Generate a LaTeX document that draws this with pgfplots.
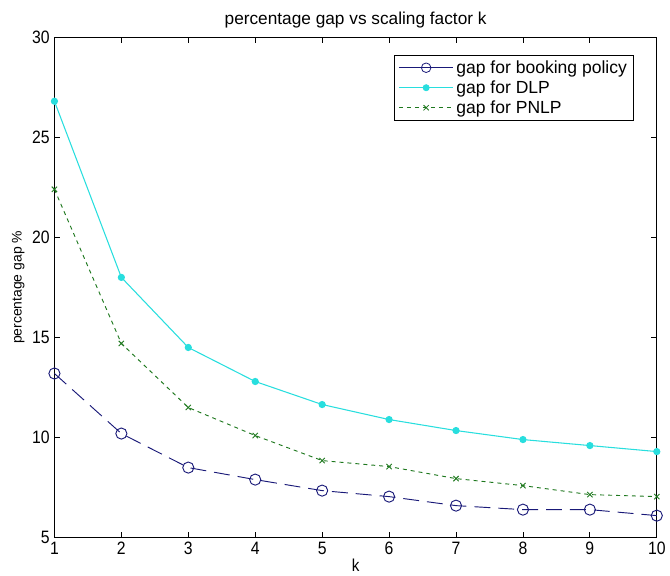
\documentclass[border=0pt]{standalone}
\usepackage{pgfplots}
\pgfplotsset{compat=1.18}
\usepackage{fontspec}
\setmainfont{Liberation Sans}
\setsansfont{Liberation Sans}
\newfontfamily\tallfont[FakeStretch=0.88]{Liberation Sans}

\definecolor{bookBlue}{RGB}{25,25,120}
\definecolor{dlpCyan}{RGB}{40,222,222}
\definecolor{pnlpGreen}{RGB}{30,120,30}

\begin{document}
\begin{tikzpicture}
\begin{axis}[
    scale only axis,
    width=453.75pt, height=377pt,
    xmin=1, xmax=10, ymin=5, ymax=30,
    xtick={1,...,10}, ytick={5,10,...,30},
    tick align=inside,
    major tick length=4.5pt,
    axis line style={black, line width=0.6pt},
    every tick/.style={black, line width=0.6pt},
    tick label style={font=\tallfont\fontsize{13.5}{14}\selectfont},
    /pgf/number format/assume math mode=true,
    xlabel={k}, ylabel={percentage gap \%},
    xlabel style={font=\tallfont\fontsize{13}{14}\selectfont, yshift=4pt},
    ylabel style={font=\fontsize{10.5}{12}\selectfont, yshift=-1pt},
    title={percentage gap vs scaling factor k},
    title style={font=\fontsize{13}{14}\selectfont, yshift=-3pt},
    legend style={at={(0.962,0.965)}, anchor=north east,
        font=\fontsize{13.2}{15}\selectfont, draw=black, line width=0.6pt,
        inner xsep=3pt, inner ysep=2pt, row sep=0pt},
    legend cell align=left,
    legend image code/.code={
        \draw[mark repeat=2, mark phase=2, #1]
            plot coordinates {(0cm,0cm) (0.72cm,0cm) (1.44cm,0cm)};},
    legend image post style={line width=0.6pt},
]
\addplot[color=bookBlue, line width=0.7pt, dash pattern=on 12pt off 6pt,
    mark=o, mark size=4.2pt, mark options={solid, line width=0.7pt}, forget plot]
    coordinates {(1,13.2) (2,10.2) (3,8.5) (4,7.9) (5,7.35) (6,7.05) (7,6.6) (8,6.4) (9,6.4) (10,6.1)};
\addlegendimage{color=bookBlue, line width=0.7pt, solid, mark=o, mark size=3.6pt}
\addlegendentry{gap for booking policy}
\addplot[color=dlpCyan, line width=0.8pt, mark=*, mark size=2.3pt,
    mark options={solid, fill=dlpCyan}]
    coordinates {(1,26.8) (2,18.0) (3,14.5) (4,12.8) (5,11.65) (6,10.9) (7,10.35) (8,9.9) (9,9.6) (10,9.3)};
\addlegendentry{gap for DLP}
\addplot[color=pnlpGreen, line width=0.7pt, dash pattern=on 3pt off 3pt,
    mark=x, mark size=2.8pt, mark options={solid}]
    coordinates {(1,22.4) (2,14.7) (3,11.5) (4,10.1) (5,8.85) (6,8.55) (7,7.95) (8,7.6) (9,7.15) (10,7.05)};
\addlegendentry{gap for PNLP}
\end{axis}
\path (current axis.south west) ++(-41pt,-12pt) coordinate (bl);
\path (current axis.north east) ++(7.5pt,28pt) coordinate (tr);
\path (bl) rectangle (tr);
\end{tikzpicture}
\end{document}
